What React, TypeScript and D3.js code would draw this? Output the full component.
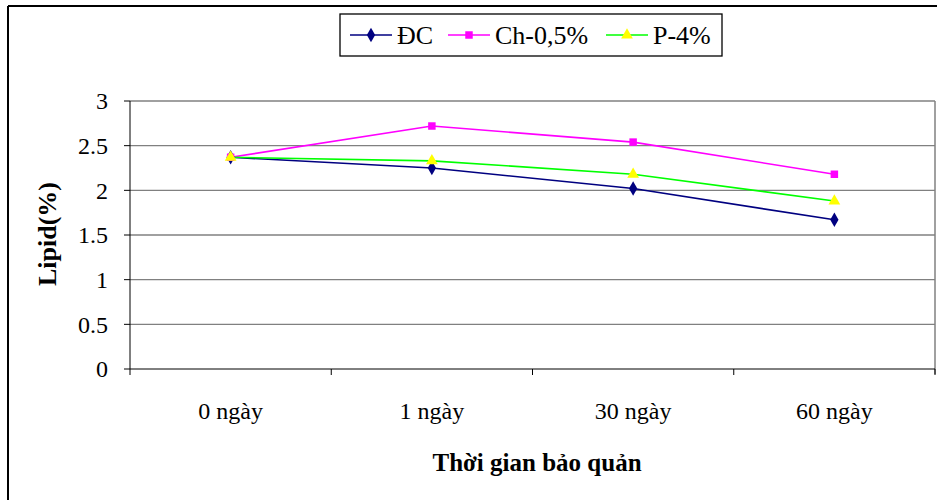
import React from 'react';
import * as d3 from 'd3';

const categories = ['0 ngày', '1 ngày', '30 ngày', '60 ngày'];
const seriesNames = ['ĐC', 'Ch-0,5%', 'P-4%'];
const dcValues = [2.37, 2.25, 2.02, 1.67];
const chValues = [2.37, 2.72, 2.54, 2.18];
const pValues = [2.37, 2.33, 2.18, 1.88];
const yTicks = [0, 0.5, 1, 1.5, 2, 2.5, 3];

const W = 937;
const H = 500;
const plot = { left: 130, right: 935, top: 101, bottom: 369 };
const font = 'Liberation Serif, Times New Roman, serif';

const series = [
  { name: seriesNames[0], values: dcValues, line: '#000080', fill: '#000080', shape: d3.symbolDiamond, size: 60 },
  { name: seriesNames[1], values: chValues, line: '#FF00FF', fill: '#FF00FF', shape: d3.symbolSquare, size: 56 },
  { name: seriesNames[2], values: pValues, line: '#00FF00', fill: '#FFFF00', shape: d3.symbolTriangle, size: 60 },
];

export default function App() {
  const x = d3.scaleBand().domain(categories).range([plot.left, plot.right]);
  const y = d3.scaleLinear().domain([0, 3]).range([plot.bottom, plot.top]);
  const cx = (c: string) => (x(c) as number) + x.bandwidth() / 2;

  const line = d3.line<number>()
    .x((d, i) => cx(categories[i]))
    .y(d => y(d));

  // legend: start x of each item's line sample
  const legendItems = [350, 448, 606];

  return (
    <svg width={W} height={H} style={{ position: 'absolute', left: 0, top: 0, display: 'block', background: '#fff', fontFamily: font }}>
      {/* outer frame (only top and left show) */}
      <line x1={8} y1={6} x2={W} y2={6} stroke="#000" strokeWidth={2} />
      <line x1={8} y1={6} x2={8} y2={H} stroke="#000" strokeWidth={2} />

      {/* gridlines */}
      {yTicks.filter(t => t > 0).map(t => (
        <line key={t} x1={plot.left} x2={plot.right} y1={y(t)} y2={y(t)} stroke="#808080" strokeWidth={1.3} />
      ))}
      <line x1={plot.right} x2={plot.right} y1={plot.top} y2={plot.bottom + 5} stroke="#808080" strokeWidth={1.5} />

      {/* y axis */}
      <line x1={plot.left} x2={plot.left} y1={plot.top} y2={plot.bottom} stroke="#000" strokeWidth={1} />
      {yTicks.map(t => (
        <g key={t}>
          <line x1={plot.left - 6} x2={plot.left} y1={y(t)} y2={y(t)} stroke="#000" />
          <text x={108} y={y(t)} dy="0.35em" textAnchor="end" fontSize={24}>{t}</text>
        </g>
      ))}

      {/* x axis */}
      <line x1={plot.left} x2={plot.right} y1={plot.bottom} y2={plot.bottom} stroke="#000" strokeWidth={1} />
      {categories.map(c => (
        <line key={'t' + c} x1={x(c) as number} x2={x(c) as number} y1={plot.bottom} y2={plot.bottom + 6} stroke="#000" />
      ))}
      <line x1={plot.right} x2={plot.right} y1={plot.bottom} y2={plot.bottom + 6} stroke="#000" />
      {categories.map(c => (
        <text key={c} x={cx(c)} y={419} textAnchor="middle" fontSize={24}>{c}</text>
      ))}

      {/* axis titles */}
      <text x={537} y={471} textAnchor="middle" fontSize={25} fontWeight="bold">Thời gian bảo quản</text>
      <text transform={`translate(56,234) rotate(-90)`} textAnchor="middle" fontSize={26} fontWeight="bold">Lipid(%)</text>

      {/* series */}
      {series.map(s => (
        <path key={'l' + s.name} d={line(s.values) as string} fill="none" stroke={s.line} strokeWidth={1.6} />
      ))}
      {series.map(s => (
        <g key={'m' + s.name}>
          {s.values.map((v, i) => (
            <path key={i} transform={`translate(${cx(categories[i])},${y(v)})`} d={d3.symbol(s.shape, s.size)() as string} fill={s.fill} />
          ))}
        </g>
      ))}

      {/* legend */}
      <rect x={340} y={14} width={382} height={42} fill="#fff" stroke="#000" strokeWidth={1.3} />
      {series.map((s, i) => (
        <g key={'lg' + s.name}>
          <line x1={legendItems[i]} x2={legendItems[i] + 42} y1={35} y2={35} stroke={s.line} strokeWidth={1.6} />
          <path transform={`translate(${legendItems[i] + 21},35)`} d={d3.symbol(s.shape, s.size)() as string} fill={s.fill} />
          <text x={legendItems[i] + 47} y={44} fontSize={26}>{s.name}</text>
        </g>
      ))}
    </svg>
  );
}
